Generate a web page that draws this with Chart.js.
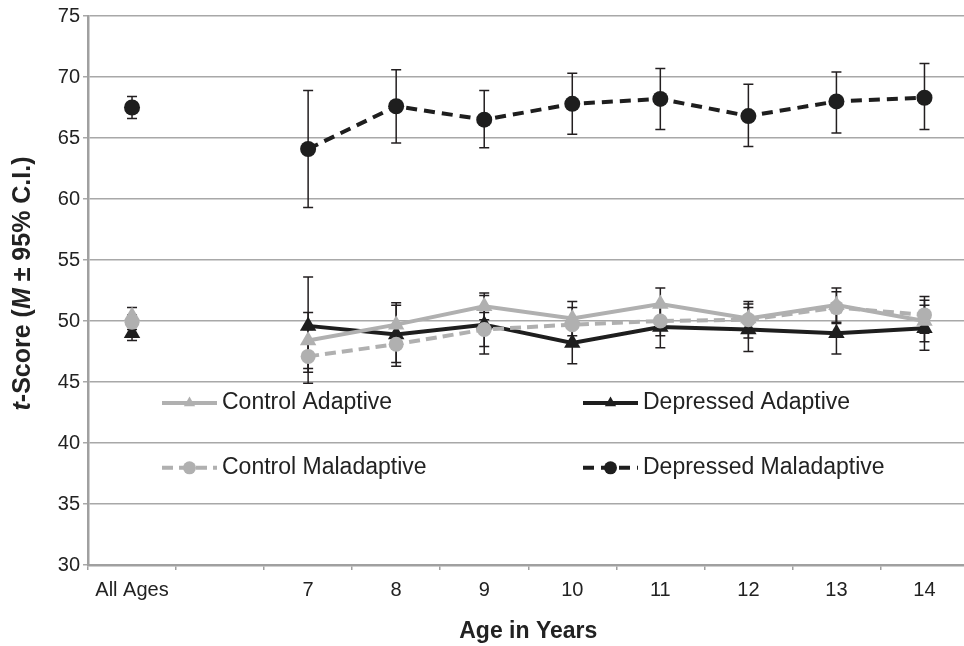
<!DOCTYPE html>
<html>
<head>
<meta charset="utf-8">
<script src="https://cdn.jsdelivr.net/npm/chart.js@4.4.1/dist/chart.umd.min.js"></script>
<style>
  html, body { margin: 0; padding: 0; background: #fff; overflow: hidden; }
  #wrap { position: relative; width: 990px; height: 646px; overflow: hidden; }
  canvas { display: block; }
</style>
</head>
<body>
<div id="wrap"><canvas id="c" width="978" height="646" style="width:978px;height:646px"></canvas></div>
<script>
// ---- data ----
const categories = ['All Ages', '', '7', '8', '9', '10', '11', '12', '13', '14'];
const yTicks = [30, 35, 40, 45, 50, 55, 60, 65, 70, 75];

const controlAdaptive      = [50.4, null, 48.4, 49.7, 51.2, 50.2, 51.4, 50.2, 51.3, 50.0];
const controlAdaptiveLow   = [49.7, null, 46.1, 48.1, 50.1, 48.8, 50.1, 49.0, 49.9, 48.3];
const controlAdaptiveHigh  = [51.1, null, 50.7, 51.3, 52.3, 51.6, 52.7, 51.4, 52.7, 51.7];

const depressedAdaptive     = [49.0, null, 49.6, 48.9, 49.7, 48.2, 49.5, 49.3, 49.0, 49.4];
const depressedAdaptiveLow  = [48.4, null, 45.8, 46.3, 47.3, 46.5, 47.8, 47.5, 47.3, 47.6];
const depressedAdaptiveHigh = [49.6, null, 53.6, 51.5, 52.1, 49.9, 51.2, 51.1, 50.7, 51.3];

const controlMaladaptive     = [49.9, null, 47.1, 48.1, 49.3, 49.7, 50.0, 50.1, 51.1, 50.5];
const controlMaladaptiveLow  = [49.3, null, 44.9, 46.6, 47.9, 48.3, 48.8, 48.6, 49.8, 49.0];
const controlMaladaptiveHigh = [50.5, null, 49.3, 49.6, 50.7, 51.1, 51.2, 51.6, 52.4, 52.0];

const depressedMaladaptive     = [67.5, null, 64.1, 67.6, 66.5, 67.8, 68.2, 66.8, 68.0, 68.3];
const depressedMaladaptiveLow  = [66.6, null, 59.3, 64.6, 64.2, 65.3, 65.7, 64.3, 65.4, 65.7];
const depressedMaladaptiveHigh = [68.4, null, 68.9, 70.6, 68.9, 70.3, 70.7, 69.4, 70.4, 71.1];

const seriesNames = ['Control Adaptive', 'Depressed Adaptive', 'Control Maladaptive', 'Depressed Maladaptive'];

// ---- styles ----
const GRAY = '#b0b0b0';
const BLACK = '#1e1e1e';
const TEXT = '#222222';
const FONT = "'Liberation Sans', Arial, Helvetica, sans-serif";

const datasets = [
  { label: seriesNames[0], data: controlAdaptive, low: controlAdaptiveLow, high: controlAdaptiveHigh,
    borderColor: GRAY, backgroundColor: GRAY, borderWidth: 4, pointStyle: 'triangle', pointRadius: 9.5,
    pointBorderWidth: 0, order: 2 },
  { label: seriesNames[1], data: depressedAdaptive, low: depressedAdaptiveLow, high: depressedAdaptiveHigh,
    borderColor: BLACK, backgroundColor: BLACK, borderWidth: 4, pointStyle: 'triangle', pointRadius: 9.5,
    pointBorderWidth: 0, order: 3 },
  { label: seriesNames[2], data: controlMaladaptive, low: controlMaladaptiveLow, high: controlMaladaptiveHigh,
    borderColor: GRAY, backgroundColor: GRAY, borderWidth: 4, borderDash: [11, 6], pointStyle: 'circle', pointRadius: 7.5,
    pointBorderWidth: 0, order: 1 },
  { label: seriesNames[3], data: depressedMaladaptive, low: depressedMaladaptiveLow, high: depressedMaladaptiveHigh,
    borderColor: BLACK, backgroundColor: BLACK, borderWidth: 4, borderDash: [11, 7], pointStyle: 'circle', pointRadius: 8,
    pointBorderWidth: 0, order: 0 }
];
datasets.forEach(d => { d.spanGaps = false; d.tension = 0; d.fill = false; d.pointHoverRadius = d.pointRadius; });

// ---- plugins ----
const errorBars = {
  id: 'errorBars',
  beforeDatasetsDraw(chart) {
    const ctx = chart.ctx, y = chart.scales.y;
    ctx.save();
    ctx.strokeStyle = '#231f20';
    ctx.lineWidth = 1.5;
    chart.data.datasets.forEach((ds, i) => {
      const meta = chart.getDatasetMeta(i);
      ds.data.forEach((v, j) => {
        if (v == null) return;
        const x = meta.data[j].x;
        const yl = y.getPixelForValue(ds.low[j]);
        const yh = y.getPixelForValue(ds.high[j]);
        ctx.beginPath();
        ctx.moveTo(x, yl); ctx.lineTo(x, yh);
        ctx.moveTo(x - 5, yl); ctx.lineTo(x + 5, yl);
        ctx.moveTo(x - 5, yh); ctx.lineTo(x + 5, yh);
        ctx.stroke();
      });
    });
    ctx.restore();
  }
};

const customLegend = {
  id: 'customLegend',
  afterDraw(chart) {
    const ctx = chart.ctx, a = chart.chartArea;
    const colsPx = [162, 583];
    const rows = [0.705, 0.823];
    const order = [0, 1, 2, 3];
    ctx.save();
    order.forEach((di, k) => {
      const ds = chart.data.datasets[di];
      const x0 = colsPx[k % 2];
      const yy = a.top + rows[Math.floor(k / 2)] * (a.bottom - a.top);
      const len = 55;
      ctx.strokeStyle = ds.borderColor;
      ctx.lineWidth = 4;
      ctx.setLineDash(ds.borderDash || []);
      ctx.beginPath();
      ctx.moveTo(x0, yy); ctx.lineTo(x0 + len, yy);
      ctx.stroke();
      ctx.setLineDash([]);
      ctx.fillStyle = ds.backgroundColor;
      Chart.helpers.drawPoint(ctx, { pointStyle: ds.pointStyle, radius: 6.5, rotation: 0, borderWidth: 0 }, x0 + len / 2, yy);
      ctx.fillStyle = TEXT;
      ctx.font = '23px ' + FONT;
      ctx.textBaseline = 'middle';
      ctx.textAlign = 'left';
      ctx.fillText(ds.label, x0 + len + 5, yy);
    });
    ctx.restore();
  }
};

const yTitle = {
  id: 'yTitle',
  afterDraw(chart) {
    const ctx = chart.ctx, a = chart.chartArea;
    const parts = [
      { t: 't', f: 'italic bold 25px ' + FONT },
      { t: '-Score (', f: 'bold 25px ' + FONT },
      { t: 'M', f: 'italic bold 25px ' + FONT },
      { t: ' \u00B1 95% C.I.)', f: 'bold 25px ' + FONT }
    ];
    ctx.save();
    let total = 0;
    parts.forEach(p => { ctx.font = p.f; p.w = ctx.measureText(p.t).width; total += p.w; });
    ctx.translate(23, (a.top + a.bottom) / 2 - 7);
    ctx.rotate(-Math.PI / 2);
    ctx.fillStyle = TEXT;
    ctx.textBaseline = 'middle';
    ctx.textAlign = 'left';
    let x = -total / 2;
    parts.forEach(p => { ctx.font = p.f; ctx.fillText(p.t, x, 0); x += p.w; });
    ctx.restore();
  }
};

new Chart(document.getElementById('c'), {
  type: 'line',
  data: { labels: categories, datasets: datasets },
  plugins: [errorBars, customLegend, yTitle],
  options: {
    responsive: false,
    maintainAspectRatio: false,
    devicePixelRatio: 1,
    animation: false,
    layout: { padding: { top: 16, right: 4, left: 0, bottom: 0 } },
    plugins: { legend: { display: false }, tooltip: { enabled: false } },
    scales: {
      x: {
        type: 'category',
        offset: true,
        grid: { display: true, drawOnChartArea: false, drawTicks: true, tickLength: 5, offset: true,
                color: '#a0a0a0', lineWidth: 1.5 },
        border: { display: true, color: '#a0a0a0', width: 2.5 },
        ticks: { color: TEXT, font: { family: FONT, size: 20 }, padding: 8, maxRotation: 0, autoSkip: false },
        title: { display: true, text: 'Age in Years', color: TEXT, font: { family: FONT, size: 23, weight: 'bold' },
                 padding: { top: 0, bottom: 1 } },
        afterFit(s) { s.height = 81; }
      },
      y: {
        min: 30, max: 75,
        afterBuildTicks(s) { s.ticks = yTicks.map(v => ({ value: v })); },
        grid: { color: '#a8a8a8', lineWidth: 1.5, tickLength: 5, drawTicks: true },
        border: { display: true, color: '#a0a0a0', width: 2.5 },
        ticks: { color: TEXT, font: { family: FONT, size: 20 }, padding: 3 },
        afterFit(s) { s.width = 88; }
      }
    }
  }
});
</script>
</body>
</html>
